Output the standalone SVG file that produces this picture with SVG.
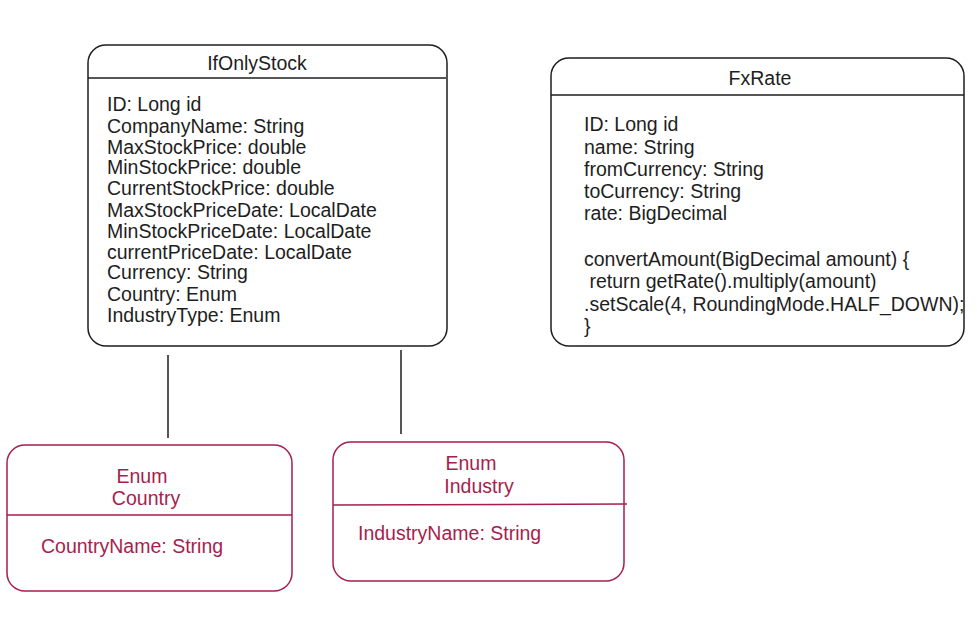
<svg xmlns="http://www.w3.org/2000/svg" width="977" height="643" viewBox="0 0 977 643">
<style>
.box{fill:#fff;stroke:#1e1e1e;stroke-width:1.5}
.pbox{fill:#fff;stroke:#a61e4d;stroke-width:1.5}
.div{stroke:#1e1e1e;stroke-width:1.5}
.pdiv{stroke:#a61e4d;stroke-width:1.5}
.t{font-family:"Liberation Sans",Arial,sans-serif;font-size:19.5px;fill:#1e1e1e;dominant-baseline:central}
.p{fill:#a61e4d}
.c{text-anchor:middle}
.conn{stroke:#1e1e1e;stroke-width:1.5;fill:none}
</style>
<rect width="977" height="643" fill="#fff"/>
<g id="connectors">
<line class="conn" x1="168" y1="355" x2="168" y2="438"/>
<line class="conn" x1="401" y1="350" x2="401" y2="434"/>
</g>
<g id="ifonlystock">
<rect class="box" x="88" y="45" width="359" height="301" rx="18"/>
<line class="div" x1="88" y1="78" x2="446" y2="78"/>
<text class="t c" x="257" y="63">IfOnlyStock</text>
<text class="t" x="107" y="104">ID: Long id</text>
<text class="t" x="107" y="126">CompanyName: String</text>
<text class="t" x="107" y="147">MaxStockPrice: double</text>
<text class="t" x="107" y="167">MinStockPrice: double</text>
<text class="t" x="107" y="188">CurrentStockPrice: double</text>
<text class="t" x="107" y="210">MaxStockPriceDate: LocalDate</text>
<text class="t" x="107" y="231">MinStockPriceDate: LocalDate</text>
<text class="t" x="107" y="252">currentPriceDate: LocalDate</text>
<text class="t" x="107" y="272">Currency: String</text>
<text class="t" x="107" y="294">Country: Enum</text>
<text class="t" x="107" y="315">IndustryType: Enum</text>
</g>
<g id="fxrate">
<rect class="box" x="551" y="58" width="413" height="288" rx="18"/>
<line class="div" x1="551" y1="95" x2="964" y2="95"/>
<text class="t c" x="760" y="78">FxRate</text>
<text class="t" x="584" y="124">ID: Long id</text>
<text class="t" x="584" y="147">name: String</text>
<text class="t" x="584" y="169">fromCurrency: String</text>
<text class="t" x="584" y="191">toCurrency: String</text>
<text class="t" x="584" y="213">rate: BigDecimal</text>
<text class="t" x="584" y="259">convertAmount(BigDecimal amount) {</text>
<text class="t" x="584" y="281" xml:space="preserve"> return getRate().multiply(amount)</text>
<text class="t" x="584" y="304">.setScale(4, RoundingMode.HALF_DOWN);</text>
<text class="t" x="584" y="326">}</text>
</g>
<g id="country">
<rect class="pbox" x="7" y="445" width="285" height="146" rx="18"/>
<line class="pdiv" x1="7" y1="515" x2="292" y2="515"/>
<text class="t p c" x="142" y="476">Enum</text>
<text class="t p c" x="146" y="498">Country</text>
<text class="t p" x="41" y="546">CountryName: String</text>
</g>
<g id="industry">
<rect class="pbox" x="333" y="442" width="291" height="139" rx="18"/>
<line class="pdiv" x1="333" y1="505" x2="627" y2="504"/>
<text class="t p c" x="471" y="463">Enum</text>
<text class="t p c" x="479" y="486">Industry</text>
<text class="t p" x="358" y="533">IndustryName: String</text>
</g>
</svg>
